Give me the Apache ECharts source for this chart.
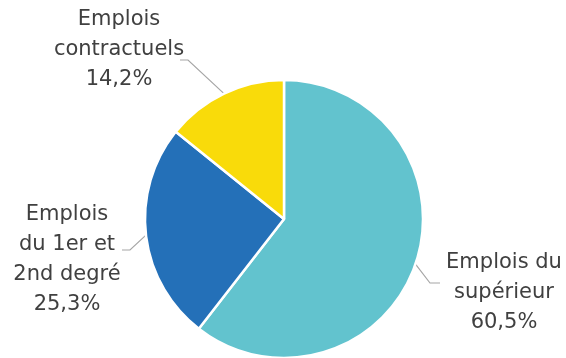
<!DOCTYPE html>
<html>
<head>
<meta charset="utf-8">
<script src="https://cdn.jsdelivr.net/npm/echarts@6/dist/echarts.min.js"></script>
<style>
  html, body { margin: 0; padding: 0; background: #fff; }
  #chart { width: 566px; height: 358px; }
</style>
</head>
<body>
<div id="chart"></div>
<script>
// Répartition des emplois (en % du total)
const categories = ['Emplois du\nsupérieur', 'Emplois\ndu 1er et\n2nd degré', 'Emplois\ncontractuels'];
const shares = [60.5, 25.3, 14.2];
const colors = ['#62C3CE', '#2470B8', '#F9DB0A'];

// Label placement around the pie: text anchor and elbow of each leader line
const labelSpots = [
  { x: 504, y: 293, elbow: [430, 283], end: [440, 283] },
  { x: 67, y: 260, elbow: [130, 250], end: [122, 250] },
  { x: 119, y: 50, elbow: [188, 60], end: [180, 60] }
];

const chart = echarts.init(document.getElementById('chart'), null, { renderer: 'canvas' });

const fmt = v => v.toFixed(1).replace('.', ',') + '%';

chart.setOption({
  animation: false,
  series: [{
    type: 'pie',
    center: [284, 219],
    radius: [0, 139],
    startAngle: 90,
    clockwise: true,
    itemStyle: { borderColor: '#ffffff', borderWidth: 2.5 },
    label: {
      show: true,
      position: 'outside',
      overflow: 'none',
      fontFamily: 'DejaVu Sans',
      fontSize: 21,
      lineHeight: 30,
      color: '#404040',
      formatter: p => p.name + '\n' + fmt(p.value)
    },
    labelLine: {
      show: true,
      length: 20,
      length2: 10,
      lineStyle: { color: '#a6a6a6', width: 1.2 }
    },
    labelLayout: function (params) {
      const spot = labelSpots[params.dataIndex];
      const pts = params.labelLinePoints;
      const start = pts ? pts[0] : spot.elbow;
      return {
        x: spot.x,
        y: spot.y,
        align: 'center',
        verticalAlign: 'middle',
        labelLinePoints: [start, spot.elbow, spot.end]
      };
    },
    data: categories.map((name, i) => ({
      name: name,
      value: shares[i],
      itemStyle: { color: colors[i] }
    }))
  }]
});
</script>
</body>
</html>
